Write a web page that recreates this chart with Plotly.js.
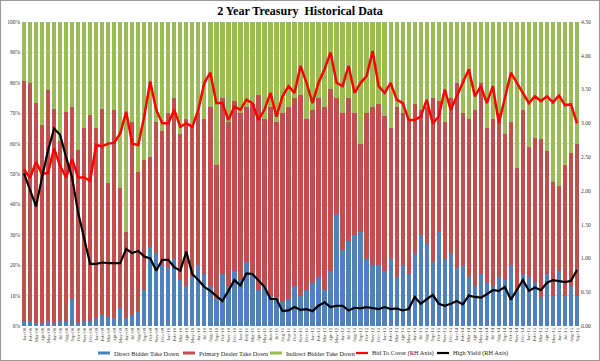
<!DOCTYPE html>
<html><head><meta charset="utf-8">
<script src="https://cdn.plot.ly/plotly-3.0.1.min.js"></script>
<style>html,body{margin:0;padding:0;background:#fff}#c{width:598px;height:359px;border:1px solid #9a9a9a}</style>
</head><body><div id="c"></div>
<script>
const months = ["Jan-08","Feb-08","Mar-08","Apr-08","May-08","Jun-08","Jul-08","Aug-08","Sep-08","Oct-08","Nov-08","Dec-08",
"Jan-09","Feb-09","Mar-09","Apr-09","May-09","Jun-09","Jul-09","Aug-09","Sep-09","Oct-09","Nov-09","Dec-09",
"Jan-10","Feb-10","Mar-10","Apr-10","May-10","Jun-10","Jul-10","Aug-10","Sep-10","Oct-10","Nov-10","Dec-10",
"Jan-11","Feb-11","Mar-11","Apr-11","May-11","Jun-11","Jul-11","Aug-11","Sep-11","Oct-11","Nov-11","Dec-11",
"Jan-12","Feb-12","Mar-12","Apr-12","May-12","Jun-12","Jul-12","Aug-12","Sep-12","Oct-12","Nov-12","Dec-12",
"Jan-13","Feb-13","Mar-13","Apr-13","May-13","Jun-13","Jul-13","Aug-13","Sep-13","Oct-13","Nov-13","Dec-13",
"Jan-14","Feb-14","Mar-14","Apr-14","May-14","Jun-14","Jul-14","Aug-14","Sep-14","Oct-14","Nov-14","Dec-14",
"Jan-15","Feb-15","Mar-15","Apr-15","May-15","Jun-15","Jul-15","Aug-15","Sep-15"];

const directBidder = [1.5,1.5,1,1,1.5,1,1.5,1.5,9,1,1.5,1.5,
2.5,3.5,3,2.5,6,2.5,3.5,4.5,12,26,24,20,
19,22,15,13,16,20,17,13,9,17,13,18,
15,21,17,12,13,10,9,8,9,13,10,12,
14,16,12,18,37,25,28,30,31,22,20,20,
18,22,16,20,17,24,30,27,21,31,22,24,
19,20,16,13,17,14,13,16,15,20,12,17,
16,14,9.5,17,10,18,10,13,10];

const primaryDealer = [79,78.5,72.5,65,76,70.5,59.5,69,63,57,63.5,68,
62.5,68,44,68.5,39.5,28.5,63.5,46,42.5,29.5,43,44,
51,53,48,55,50,50,51,59,44,58,54,56,
55,51,56,64,55,62,58,62,63,62,66,56,
57,59,60,60,38,45,47,40,29,48,52,53,
51,43,56,50,51,49,41,45,54,43,45,51,
61,50,52,58,63,51,55,54,48,47,40,54,
43,48,52,40.5,37.5,28,43,44,50];

const indirectBidder = [19.5,20,26.5,34,22.5,28.5,39,29.5,28,42,35,30.5,
35,28.5,53,29,54.5,69,33,49.5,45.5,44.5,33,36,
30,25,37,32,34,30,32,28,47,25,33,26,
30,28,27,24,32,28,33,30,28,25,24,32,
29,25,28,22,25,30,25,30,40,30,28,27,
31,35,28,30,32,27,29,28,25,26,33,25,
20,30,32,29,20,35,32,30,37,33,48,29,
41,38,38.5,42.5,52.5,54,47,43,40];

const bidToCover = [2.32,2.19,2.43,2.25,2.27,2.63,2.37,2.2,2.47,2.2,2.2,2.15,
2.68,2.66,2.7,2.71,2.85,3.17,2.7,2.68,3.1,3.62,3.2,3.0,
3.0,3.2,2.95,3.0,2.95,3.2,3.6,3.75,3.3,3.3,3.05,3.25,
3.2,3.35,3.3,3.05,3.2,3.45,3.1,3.4,3.55,3.45,3.85,3.6,
3.3,3.6,3.8,4.05,3.6,3.55,3.85,3.45,3.6,3.7,4.07,3.55,
3.45,3.6,3.35,3.3,3.05,3.05,3.1,3.35,3.0,3.1,3.5,3.2,
3.4,3.6,3.8,3.4,3.55,3.3,3.55,3.0,3.4,3.75,3.6,3.45,
3.3,3.4,3.33,3.4,3.31,3.41,3.27,3.28,3.0];

const highYield = [2.26,2.0,1.77,2.2,2.6,2.92,2.83,2.5,2.2,1.68,1.3,0.92,
0.92,0.94,0.93,0.93,0.93,1.14,1.08,1.11,1.03,1.0,0.82,0.98,
0.98,0.87,0.82,1.1,0.77,0.68,0.58,0.52,0.45,0.37,0.52,0.68,
0.6,0.78,0.77,0.68,0.58,0.4,0.4,0.22,0.23,0.28,0.24,0.25,
0.22,0.3,0.35,0.28,0.3,0.3,0.23,0.27,0.26,0.28,0.27,0.25,
0.28,0.25,0.26,0.23,0.25,0.43,0.33,0.4,0.46,0.33,0.3,0.33,
0.37,0.32,0.45,0.43,0.42,0.47,0.53,0.52,0.58,0.39,0.53,0.68,
0.52,0.57,0.53,0.64,0.68,0.67,0.65,0.67,0.83];

const seriesNames = ["Direct Bidder Take Down","Primary Dealer Take Down","Indirect Bidder Take Down","Bid To Cover (RH Axis)","High Yield (RH Axis)"];
const seriesColors = ["#4F81BD","#C0504D","#9BBB59","#FF0000","#000000"];

const serif = "Liberation Serif, Times New Roman, serif";
const traces = [
  {type:"bar", name:seriesNames[0], x:months, y:directBidder, marker:{color:seriesColors[0]}, yaxis:"y"},
  {type:"bar", name:seriesNames[1], x:months, y:primaryDealer, marker:{color:seriesColors[1]}, yaxis:"y"},
  {type:"bar", name:seriesNames[2], x:months, y:indirectBidder, marker:{color:seriesColors[2]}, yaxis:"y"},
  {type:"scatter", mode:"lines", name:seriesNames[3], x:months, y:bidToCover, yaxis:"y2", line:{color:seriesColors[3], width:2.5}},
  {type:"scatter", mode:"lines", name:seriesNames[4], x:months, y:highYield, yaxis:"y2", line:{color:seriesColors[4], width:2.2}}
];

// Custom legend (positions in paper fraction of the plot area: plot spans px 21..580, 22..326)
const plotL = 21, plotW = 559, plotB = 326, plotH = 304;
const px = v => (v - plotL) / plotW;
const py = v => (plotB - v) / plotH;
const legendX = [98, 183, 270, 356, 437];
const legendY = 353;
const shapes = [], annotations = [];
seriesNames.forEach((n, i) => {
  const x0 = legendX[i], x1 = x0 + 12;
  if (i < 3) {
    shapes.push({type:"rect", xref:"paper", yref:"paper", x0:px(x0), x1:px(x1), y0:py(legendY+1.5), y1:py(legendY-1.5), fillcolor:seriesColors[i], line:{width:0}});
  } else {
    shapes.push({type:"line", xref:"paper", yref:"paper", x0:px(x0), x1:px(x1), y0:py(legendY), y1:py(legendY), line:{color:seriesColors[i], width:2.2}});
  }
  annotations.push({xref:"paper", yref:"paper", x:px(x1 + 2), y:py(legendY), xanchor:"left", yanchor:"middle", text:n, showarrow:false, font:{family:serif, size:6.3, color:"#222"}});
});

const layout = {
  width:598, height:359,
  margin:{l:20, r:19, t:21, b:34, autoexpand:false},
  paper_bgcolor:"#fff", plot_bgcolor:"#fff",
  barmode:"stack", bargap:0.28,
  showlegend:false,
  title:{text:"<b>2 Year Treasury  Historical Data</b>", font:{family:serif, size:12, color:"#000"}, x:0.5, xref:"container", y:0.972, yref:"container", yanchor:"middle"},
  xaxis:{type:"category", tickmode:"array", tickvals:months, ticktext:months, tickangle:-90, tickfont:{family:serif, size:4.8, color:"#333"}, showgrid:false, ticks:"", automargin:false, showline:false},
  yaxis:{range:[0,100], dtick:10, ticksuffix:"%", tickfont:{family:serif, size:5.5, color:"#333"}, gridcolor:"#c8c8c8", gridwidth:0.6, zeroline:false, automargin:false},
  yaxis2:{range:[0,4.5], dtick:0.5, tickformat:".2f", overlaying:"y", side:"right", showgrid:false, zeroline:false, tickfont:{family:serif, size:5.5, color:"#333"}, automargin:false},
  shapes:shapes, annotations:annotations
};
Plotly.newPlot("c", traces, layout, {displayModeBar:false, staticPlot:true});
</script></body></html>
